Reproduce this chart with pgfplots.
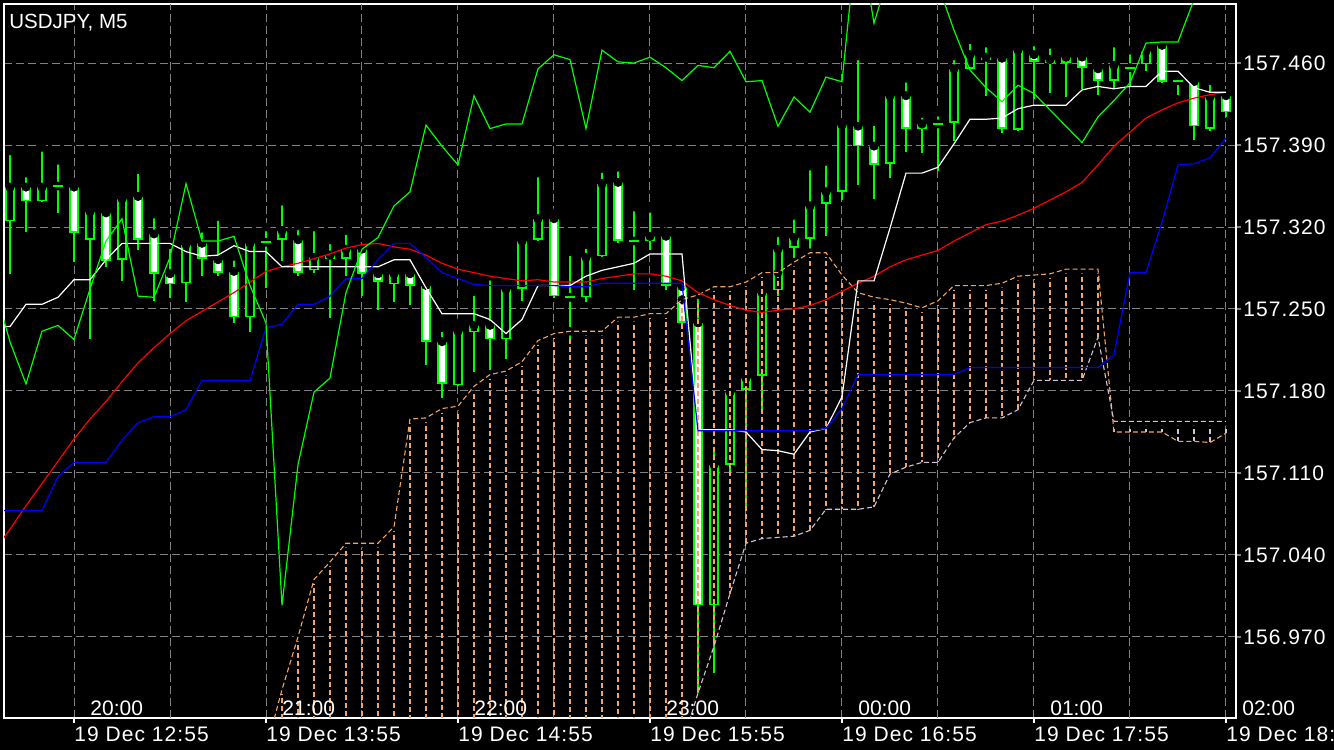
\documentclass[border=0pt]{standalone}
\usepackage{fontspec}
\setmainfont{Liberation Sans}
\newfontfamily\lsfont[LetterSpace=5]{Liberation Sans}
\usepackage{pgfplots}
\usepackage{pgfplotstable}
\pgfplotsset{compat=1.18}
\definecolor{cgreen}{HTML}{00FF00}
\definecolor{sandy}{HTML}{F4A460}
\definecolor{thist}{HTML}{D8BFD8}
\definecolor{gridgray}{HTML}{7F7F7F}
\definecolor{ired}{HTML}{FF0000}
\definecolor{iblue}{HTML}{0000FF}

\pgfplotstableread{
i O H L C
0 157.325 157.385 157.280 157.354
1 157.354 157.366 157.316 157.342
2 157.342 157.388 157.341 157.354
3 157.355 157.377 157.332 157.355
4 157.354 157.356 157.290 157.315
5 157.309 157.334 157.224 157.333
6 157.332 157.336 157.286 157.291
7 157.292 157.346 157.274 157.344
8 157.346 157.369 157.300 157.309
9 157.314 157.331 157.257 157.280
10 157.280 157.305 157.259 157.271
11 157.272 157.307 157.256 157.305
12 157.306 157.319 157.278 157.293
13 157.292 157.329 157.278 157.281
14 157.282 157.295 157.238 157.243
15 157.243 157.312 157.230 157.306
16 157.307 157.320 157.268 157.307
17 157.309 157.342 157.291 157.317
18 157.309 157.321 157.278 157.281
19 157.283 157.320 157.281 157.294
20 157.296 157.309 157.242 157.293
21 157.293 157.317 157.278 157.301
22 157.301 157.302 157.261 157.280
23 157.280 157.281 157.249 157.273
24 157.271 157.285 157.256 157.280
25 157.280 157.281 157.253 157.270
26 157.270 157.271 157.202 157.222
27 157.222 157.234 157.174 157.186
28 157.185 157.238 157.184 157.231
29 157.230 157.265 157.196 157.236
30 157.236 157.278 157.198 157.224
31 157.224 157.270 157.207 157.267
32 157.267 157.311 157.257 157.308
33 157.309 157.366 157.308 157.327
34 157.327 157.332 157.259 157.261
35 157.260 157.299 157.224 157.260
36 157.260 157.305 157.256 157.294
37 157.295 157.370 157.294 157.357
38 157.358 157.371 157.306 157.308
39 157.308 157.337 157.266 157.308
40 157.308 157.336 157.300 157.312
41 157.312 157.316 157.266 157.270
42 157.269 157.270 157.237 157.238
43 157.238 157.262 156.922 156.997
44 156.997 157.136 156.939 157.117
45 157.117 157.183 157.112 157.179
46 157.181 157.198 157.080 157.191
47 157.193 157.267 157.161 157.264
48 157.266 157.315 157.261 157.301
49 157.302 157.330 157.289 157.311
50 157.310 157.372 157.300 157.338
51 157.340 157.376 157.312 157.350
52 157.350 157.407 157.343 157.407
53 157.406 157.466 157.356 157.389
54 157.389 157.410 157.344 157.373
55 157.374 157.432 157.362 157.432
56 157.432 157.447 157.384 157.404
57 157.404 157.417 157.383 157.408
58 157.408 157.418 157.368 157.408
59 157.409 157.466 157.393 157.455
60 157.455 157.480 157.455 157.467
61 157.465 157.477 157.432 157.463
62 157.464 157.470 157.400 157.404
63 157.403 157.477 157.402 157.471
64 157.467 157.478 157.429 157.461
65 157.463 157.476 157.434 157.460
66 157.460 157.471 157.431 157.465
67 157.465 157.466 157.438 157.456
68 157.455 157.460 157.433 157.445
69 157.445 157.477 157.438 157.458
70 157.456 157.471 157.440 157.456
71 157.459 157.477 157.453 157.470
72 157.475 157.477 157.443 157.444
73 157.445 157.449 157.433 157.445
74 157.444 157.448 157.394 157.406
75 157.404 157.445 157.402 157.431
76 157.432 157.434 157.414 157.418
}\candles

\pgfplotstableread{
i tk kj ma
-1 157.235 157.078 157.043
0 157.235 157.078 157.062
1 157.254 157.078 157.082
2 157.254 157.078 157.101
3 157.260 157.107 157.120
4 157.275 157.119 157.139
5 157.275 157.119 157.156
6 157.292 157.119 157.171
7 157.306 157.138 157.188
8 157.306 157.153 157.204
9 157.306 157.158 157.217
10 157.306 157.158 157.229
11 157.299 157.164 157.240
12 157.295 157.189 157.248
13 157.296 157.189 157.256
14 157.304 157.189 157.264
15 157.299 157.189 157.273
16 157.299 157.234 157.282
17 157.286 157.237 157.286
18 157.286 157.254 157.289
19 157.286 157.254 157.293
20 157.286 157.261 157.297
21 157.286 157.276 157.302
22 157.286 157.276 157.305
23 157.286 157.292 157.306
24 157.292 157.306 157.303
25 157.292 157.306 157.301
26 157.268 157.294 157.296
27 157.246 157.281 157.289
28 157.246 157.276 157.284
29 157.246 157.271 157.281
30 157.241 157.270 157.278
31 157.229 157.270 157.276
32 157.241 157.270 157.274
33 157.270 157.270 157.275
34 157.270 157.270 157.273
35 157.270 157.269 157.273
36 157.278 157.269 157.273
37 157.283 157.272 157.276
38 157.286 157.272 157.278
39 157.289 157.272 157.280
40 157.297 157.272 157.280
41 157.297 157.272 157.278
42 157.297 157.272 157.274
43 157.147 157.146 157.264
44 157.147 157.146 157.258
45 157.147 157.146 157.253
46 157.145 157.146 157.249
47 157.130 157.146 157.247
48 157.129 157.146 157.249
49 157.126 157.146 157.250
50 157.145 157.146 157.253
51 157.148 157.148 157.258
52 157.175 157.165 157.265
53 157.274 157.194 157.272
54 157.274 157.194 157.278
55 157.319 157.194 157.286
56 157.366 157.194 157.292
57 157.366 157.194 157.296
58 157.371 157.194 157.300
59 157.391 157.194 157.308
60 157.412 157.200 157.315
61 157.412 157.200 157.322
62 157.413 157.200 157.325
63 157.421 157.200 157.330
64 157.424 157.200 157.336
65 157.424 157.200 157.343
66 157.424 157.200 157.350
67 157.437 157.200 157.358
68 157.440 157.200 157.373
69 157.438 157.211 157.389
70 157.440 157.281 157.401
71 157.440 157.281 157.413
72 157.453 157.324 157.420
73 157.453 157.373 157.426
74 157.439 157.374 157.430
75 157.435 157.379 157.433
76 157.435 157.396 157.435
}\ind

\pgfplotstableread{
i A B
16 156.874 156.840
17 156.925 156.840
18 156.970 156.840
19 157.019 156.840
20 157.034 156.840
21 157.050 156.840
22 157.050 156.840
23 157.050 156.840
24 157.064 156.840
25 157.156 156.840
26 157.157 156.840
27 157.165 156.840
28 157.167 156.840
29 157.184 156.840
30 157.194 156.840
31 157.197 156.840
32 157.205 156.840
33 157.223 156.840
34 157.229 156.840
35 157.231 156.840
36 157.231 156.840
37 157.231 156.840
38 157.243 156.840
39 157.243 156.840
40 157.246 156.840
41 157.246 156.840
42 157.258 156.878
43 157.262 156.922
44 157.269 156.962
45 157.269 157.007
46 157.273 157.050
47 157.281 157.054
48 157.281 157.055
49 157.290 157.056
50 157.298 157.061
51 157.298 157.079
52 157.279 157.079
53 157.264 157.079
54 157.260 157.081
55 157.258 157.109
56 157.255 157.115
57 157.251 157.119
58 157.257 157.119
59 157.270 157.140
60 157.270 157.153
61 157.270 157.157
62 157.272 157.157
63 157.278 157.164
64 157.279 157.189
65 157.280 157.189
66 157.284 157.189
67 157.284 157.189
68 157.284 157.226
69 157.145 157.154
70 157.145 157.154
71 157.145 157.154
72 157.145 157.154
73 157.137 157.154
74 157.137 157.154
75 157.136 157.154
76 157.144 157.154
}\cloud

\pgfplotstableread{
j g
-1 157.270
0 157.222
1 157.186
2 157.231
3 157.236
4 157.224
5 157.267
6 157.308
7 157.327
8 157.261
9 157.260
10 157.294
11 157.357
12 157.308
13 157.308
14 157.312
15 157.270
16 157.238
17 156.997
18 157.117
19 157.179
20 157.191
21 157.264
22 157.301
23 157.311
24 157.338
25 157.350
26 157.407
27 157.389
28 157.373
29 157.432
30 157.404
31 157.408
32 157.408
33 157.455
34 157.467
35 157.463
36 157.404
37 157.471
38 157.461
39 157.460
40 157.465
41 157.456
42 157.445
43 157.458
44 157.456
45 157.470
46 157.444
47 157.445
48 157.406
49 157.431
50 157.418
51 157.448
52 157.444
53 157.578
54 157.494
55 157.539
56 157.548
57 157.548
58 157.527
59 157.488
60 157.454
61 157.439
62 157.427
63 157.441
64 157.434
65 157.420
66 157.406
67 157.392
68 157.414
69 157.428
70 157.443
71 157.477
72 157.478
73 157.478
74 157.514
75 157.548
76 157.574
}\chikou

\begin{document}
\begin{tikzpicture}
\fill[black] (0,0) rectangle (667pt,375pt);
\begin{axis}[
  at={(2pt,16pt)}, anchor=south west,
  width=616pt, height=357pt, scale only axis,
  xmin=-0.375, xmax=76.625,
  ymin=156.9008, ymax=157.5104,
  clip mode=individual,
  axis line style={white, line width=0.6pt},
  tick align=outside,
  xtick pos=bottom, xticklabel pos=bottom,
  ytick pos=right, yticklabel pos=right,
  xtick={4,16,28,40,52,64,76},
  xticklabels={19 Dec 12:55,19 Dec 13:55,19 Dec 14:55,19 Dec 15:55,19 Dec 16:55,19 Dec 17:55,19 Dec 18:},
  extra x ticks={10,22,34,46,58,70},
  extra x tick labels={},
  extra x tick style={grid=major, tick style={draw=none}},
  ytick={156.97,157.04,157.11,157.18,157.25,157.32,157.39,157.46},
  yticklabels={156.970,157.040,157.110,157.180,157.250,157.320,157.390,157.460},
  major tick length=2.5pt,
  tick style={gridgray, line width=0.6pt},
  xtick style={white},
  grid=major,
  major grid style={gridgray, line width=0.5pt, dash pattern=on 4pt off 2pt},
  tick label style={text=white, font=\lsfont\fontsize{10.5pt}{12pt}\selectfont},
  xticklabel style={anchor=north west, inner sep=0pt, yshift=-1.5pt},
  yticklabel style={anchor=west, inner sep=0pt, xshift=1pt},
]
% wicks
\addplot[only marks, mark=none, error bars/.cd, y dir=minus, y explicit, error mark=none,
  error bar style={draw=cgreen, line width=0.9pt, solid}]
  table[x=i, y=H, y error minus expr={\thisrow{H}-\thisrow{L}}] {\candles};
% body outlines
\addplot[only marks, mark=none, error bars/.cd, y dir=minus, y explicit, error mark=none,
  error bar style={draw=cgreen, line width=4.75pt, solid}]
  table[x=i, y expr={max(\thisrow{O},\thisrow{C})}, y error minus expr={abs(\thisrow{O}-\thisrow{C})}] {\candles};
% bearish fill
\addplot[only marks, mark=none, restrict expr to domain={\thisrow{O}-\thisrow{C}}{0.0019:1},
  error bars/.cd, y dir=minus, y explicit, error mark=none,
  error bar style={draw=white, line width=3pt, solid, shorten <=0.8pt, shorten >=0.8pt}]
  table[x=i, y=O, y error minus expr={\thisrow{O}-\thisrow{C}}] {\candles};
% bullish fill
\addplot[only marks, mark=none, restrict expr to domain={\thisrow{C}-\thisrow{O}}{0.0019:1},
  error bars/.cd, y dir=minus, y explicit, error mark=none,
  error bar style={draw=black, line width=3pt, solid, shorten <=0.8pt, shorten >=0.8pt}]
  table[x=i, y=C, y error minus expr={\thisrow{C}-\thisrow{O}}] {\candles};
% doji
\addplot[only marks, mark=-, mark size=2.375pt, mark options={draw=cgreen, line width=1pt},
  restrict expr to domain={abs(\thisrow{O}-\thisrow{C})}{0:0.0015}]
  table[x=i, y=C] {\candles};
% cloud hatch
\addplot[only marks, mark=none, restrict y to domain=156.9:158,
  restrict expr to domain={\thisrow{A}-\thisrow{B}}{0:1},
  error bars/.cd, y dir=minus, y explicit, error mark=none,
  error bar style={draw=sandy, line width=0.55pt, dash pattern=on 2.5pt off 1.5pt}]
  table[x=i, y=A, y error minus expr={\thisrow{A}-max(\thisrow{B},156.9)}] {\cloud};
\addplot[only marks, mark=none,
  restrict expr to domain={\thisrow{B}-\thisrow{A}}{0.0001:1},
  error bars/.cd, y dir=minus, y explicit, error mark=none,
  error bar style={draw=thist, line width=0.55pt, dash pattern=on 2.5pt off 1.5pt}]
  table[x=i, y=B, y error minus expr={\thisrow{B}-\thisrow{A}}] {\cloud};
\addplot[sandy, line width=0.55pt, dash pattern=on 2.5pt off 1.5pt] table[x=i, y=A] {\cloud};
\addplot[thist, line width=0.55pt, dash pattern=on 2.5pt off 1.5pt] table[x=i, y=B] {\cloud};
% indicator lines
\addplot[ired, line width=0.6pt] table[x=i, y=ma] {\ind};
\addplot[white, line width=0.6pt] table[x=i, y=tk] {\ind};
\addplot[iblue, line width=0.6pt] table[x=i, y=kj] {\ind};
\addplot[cgreen, line width=0.6pt] table[x=j, y=g] {\chikou};
% labels
\node[anchor=base west, inner sep=0pt, text=white, font=\fontsize{10.25pt}{12pt}\selectfont, xshift=2.5pt, yshift=-12.15pt] at (rel axis cs:0,1) {USDJPY, M5};
\foreach \xx/\tt in {5/20:00,17/21:00,29/22:00,41/23:00,53/00:00,65/01:00,77/02:00}{
  \edef\temp{\noexpand\node[anchor=base west, inner sep=0pt, text=white, font=\noexpand\fontsize{10.5pt}{12pt}\noexpand\selectfont, yshift=1pt] at (axis cs:\xx,156.9008) {\tt};}
  \temp
}
\end{axis}
\pgfresetboundingbox
\path[use as bounding box] (0,0) rectangle (667pt,375pt);
\end{tikzpicture}
\end{document}
